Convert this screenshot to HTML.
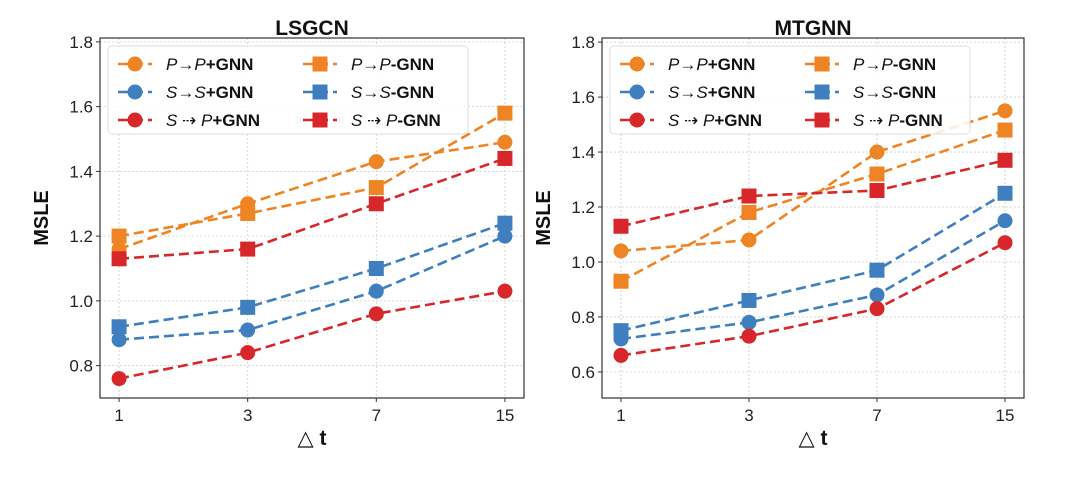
<!DOCTYPE html>
<html><head><meta charset="utf-8"><style>
body{margin:0;background:#fff;}
svg{display:block;font-family:"Liberation Sans","DejaVu Sans",sans-serif;}
</style></head><body>
<svg id="c" width="1080" height="484" viewBox="0 0 1080 484"></svg>
<script>
const xCats=["1","3","7","15"];
const seriesNames=["PP+","PP-","SS+","SS-","SP+","SP-"];
const lsgcnPPplus=[1.16,1.30,1.43,1.49];
const lsgcnPPminus=[1.20,1.27,1.35,1.58];
const lsgcnSSplus=[0.88,0.91,1.03,1.20];
const lsgcnSSminus=[0.92,0.98,1.10,1.24];
const lsgcnSPplus=[0.76,0.84,0.96,1.03];
const lsgcnSPminus=[1.13,1.16,1.30,1.44];
const mtgnnPPplus=[1.04,1.08,1.40,1.55];
const mtgnnPPminus=[0.93,1.18,1.32,1.48];
const mtgnnSSplus=[0.72,0.78,0.88,1.15];
const mtgnnSSminus=[0.75,0.86,0.97,1.25];
const mtgnnSPplus=[0.66,0.73,0.83,1.07];
const mtgnnSPminus=[1.13,1.24,1.26,1.37];
const lsgcnTicks=[0.8,1.0,1.2,1.4,1.6,1.8];
const mtgnnTicks=[0.6,0.8,1.0,1.2,1.4,1.6,1.8];

const NS="http://www.w3.org/2000/svg";
const svg=document.getElementById('c');
function mk(tag,attrs,parent){const e=document.createElementNS(NS,tag);for(const k in attrs)e.setAttribute(k,attrs[k]);(parent||svg).appendChild(e);return e;}
const OR="#ee8424",BL="#3f7fbf",RD="#d7272b";

function panel(title,x0,x1,ymin,ymax,ticks,data){
  const y0=38,y1=398;
  const g=mk('g',{});
  
  
  const pad=(x1-x0)*0.045;
  const xs=i=>x0+pad+i*((x1-x0-2*pad)/(xCats.length-1));
  const ys=v=>y1-(v-ymin)/(ymax-ymin)*(y1-y0);
  xCats.forEach((c,i)=>{
    const l=mk('line',{x1:xs(i),x2:xs(i),y1:y0,y2:y1,stroke:"#ccc","stroke-dasharray":"2,2","stroke-width":0.8},g);
    
    const t=mk('text',{x:xs(i),y:y1+23,"text-anchor":"middle","font-size":17,fill:"#222"},g);
    t.textContent=c;
    
    mk('line',{x1:xs(i),x2:xs(i),y1:y1,y2:y1+4,stroke:"#333"},g);
  });
  ticks.forEach(v=>{
    const l=mk('line',{x1:x0,x2:x1,y1:ys(v),y2:ys(v),stroke:"#ccc","stroke-dasharray":"2,2","stroke-width":0.8},g);
    
    mk('line',{x1:x0-4,x2:x0,y1:ys(v),y2:ys(v),stroke:"#333"},g);
    const t=mk('text',{x:x0-7,y:ys(v)+6,"text-anchor":"end","font-size":17,fill:"#222"},g);
    t.textContent=v.toFixed(1);
    
  });
  const fr=mk('rect',{x:x0,y:y0,width:x1-x0,height:y1-y0,fill:"none",stroke:"#333","stroke-width":1.2},g);
  
  const tt=mk('text',{x:(x0+x1)/2,y:y0-3,"text-anchor":"middle","font-size":21,"font-weight":"bold",fill:"#111"},g);
  tt.textContent=title;
  
  const yl=mk('text',{x:0,y:0,"text-anchor":"middle","font-size":20,"font-weight":"bold",fill:"#111",transform:`translate(${x0-52},${(y0+y1)/2}) rotate(-90)`},g);
  yl.textContent="MSLE";
  
  const xl=mk('text',{x:(x0+x1)/2,y:y1+47,"text-anchor":"middle","font-size":21,fill:"#111"},g);
  xl.innerHTML='△<tspan font-weight="bold"> t</tspan>';
  
  const styles=[[OR,'c'],[OR,'s'],[BL,'c'],[BL,'s'],[RD,'c'],[RD,'s']];
  data.forEach((arr,si)=>{
    const [col,shape]=styles[si];
    const sg=mk('g',{},g);
    
    
    mk('polyline',{points:arr.map((v,i)=>xs(i)+','+ys(v)).join(' '),fill:"none",stroke:col,"stroke-width":2.6,"stroke-dasharray":"10,5"},sg);
    arr.forEach((v,i)=>{
      let m;
      if(shape==='c') m=mk('circle',{cx:xs(i),cy:ys(v),r:7.5,fill:col},sg);
      else m=mk('rect',{x:xs(i)-7.5,y:ys(v)-7.5,width:15,height:15,fill:col},sg);
      
    });
  });
  const lx=x0+8,ly=y0+8;
  const lg=mk('g',{},g);
  
  mk('rect',{x:lx,y:ly,width:360,height:88,rx:4,fill:"rgba(255,255,255,0.85)",stroke:"#ddd"},lg);
  const labels=[['P→P','+GNN'],['P→P','-GNN'],['S→S','+GNN'],['S→S','-GNN'],['S ⇢ P','+GNN'],['S ⇢ P','-GNN']];
  labels.forEach((lab,k)=>{
    const col=k%2,row=Math.floor(k/2);
    const ex=lx+10+col*185,ey=ly+18+row*28;
    const [c,shape]=styles[k];
    const eg=mk('g',{},lg);
    
    mk('line',{x1:ex,x2:ex+34,y1:ey,y2:ey,stroke:c,"stroke-width":2.6,"stroke-dasharray":"10,5"},eg);
    if(shape==='c') mk('circle',{cx:ex+17,cy:ey,r:7.5,fill:c},eg);
    else mk('rect',{x:ex+9.5,y:ey-7.5,width:15,height:15,fill:c},eg);
    const t=mk('text',{x:ex+48,y:ey+6,"font-size":17,fill:"#111"},eg);
    t.innerHTML=`<tspan font-style="italic">${lab[0]}</tspan><tspan font-weight="bold">${lab[1]}</tspan>`;
  });
}
panel("LSGCN",100,524,0.70,1.812,lsgcnTicks,[lsgcnPPplus,lsgcnPPminus,lsgcnSSplus,lsgcnSSminus,lsgcnSPplus,lsgcnSPminus]);
panel("MTGNN",602,1024,0.505,1.815,mtgnnTicks,[mtgnnPPplus,mtgnnPPminus,mtgnnSSplus,mtgnnSSminus,mtgnnSPplus,mtgnnSPminus]);
</script>
</body></html>
